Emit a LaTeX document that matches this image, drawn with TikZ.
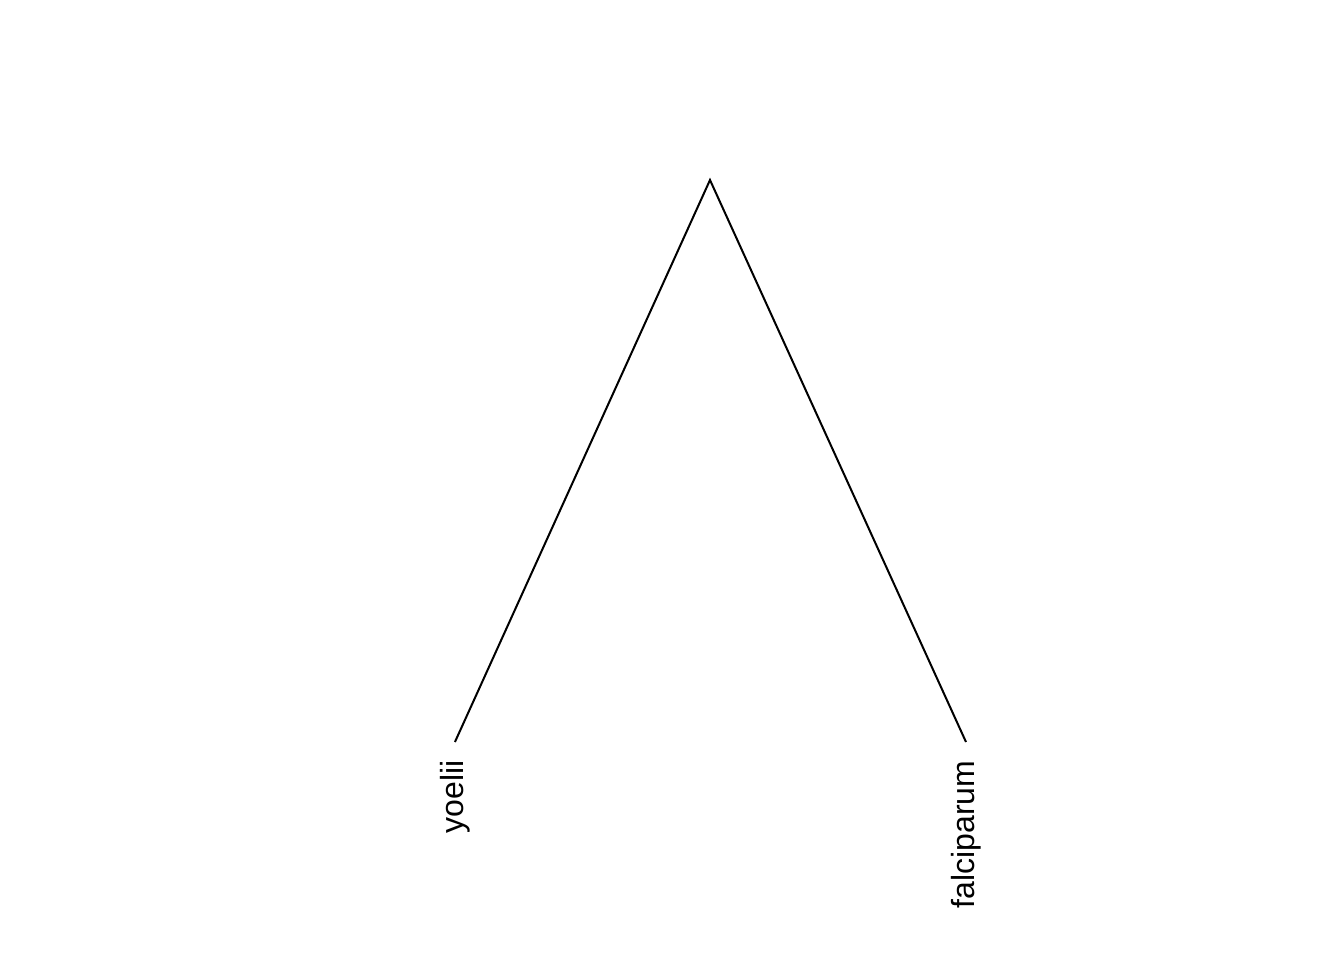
\documentclass[tikz,border=0pt]{standalone}
\usepackage{fontspec}
\setmainfont{Liberation Sans}
\usepackage{tikz}

\begin{document}
\begin{tikzpicture}[x=1pt,y=1pt,
  leaf/.style={rotate=90, anchor=east, inner sep=0pt, font=\fontsize{12}{14}\selectfont},
  branch/.style={line width=0.75pt}]
  \useasboundingbox (0,0) rectangle (504,360);
  \coordinate (root) at (266.25,292.5);
  \coordinate (yoe) at (170.6,81.75);
  \coordinate (fal) at (362.25,81.75);
  \draw[branch] (yoe) -- (root) -- (fal);
  \node[leaf] (l-yoe) at (170.6,75) {yoelii};
  \node[leaf] (l-fal) at (362.25,75) {falciparum};
\end{tikzpicture}
\end{document}
